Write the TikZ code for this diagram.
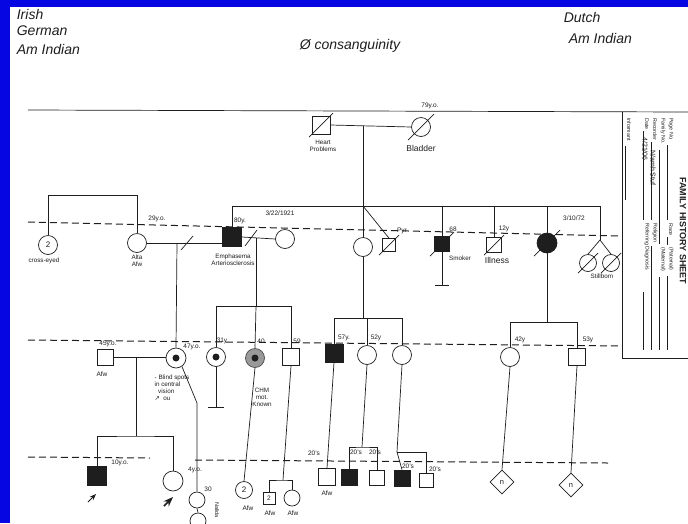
\documentclass[tikz,border=0pt]{standalone}
\usepackage{fontspec}
\setmainfont{Liberation Sans}
\newfontfamily\symfont{DejaVu Sans}
\usetikzlibrary{arrows.meta,shapes.geometric}
\definecolor{SlideBlue}{RGB}{6,6,226}
\definecolor{Ink}{RGB}{30,30,30}

\begin{document}
\begin{tikzpicture}[x=1pt,y=-1pt,>=Stealth,color=Ink,line width=0.7pt,every node/.style={font=\fontsize{6.5}{7}\selectfont,inner sep=0.5pt}]
\tikzset{male/.style={draw=Ink,minimum size=17pt,inner sep=0pt},female/.style={circle,draw=Ink,minimum size=19pt,inner sep=0pt},aff/.style={fill=Ink},carrier/.style={path picture={\fill[Ink] (path picture bounding box.center) circle (3.5pt);}},sexunk/.style={diamond,draw=Ink,aspect=1,minimum size=24pt,inner sep=0pt},hand/.style={font=\itshape\fontsize{14}{15}\selectfont,anchor=west},lbl/.style={align=center,font=\fontsize{6.3}{7}\selectfont},big/.style={font=\fontsize{8.5}{9}\selectfont},form/.style={rotate=-90,anchor=west,font=\fontsize{5.3}{6}\selectfont,inner sep=0pt},gen/.style={dash pattern=on 7pt off 4pt,line width=1pt}}
\useasboundingbox (0,0) rectangle (688,523);
\clip (0,0) rectangle (688,523);
\fill[SlideBlue] (0,0) rectangle (688,523);
\fill[white] (10,7) rectangle (688,523);
\node[hand] (irish) at (16,14) {Irish};
\node[hand] (german) at (16,31) {German};
\node[hand] (amind1) at (16,49) {Am Indian};
\node[hand,anchor=center] (consang) at (350,46) {Ø consanguinity};
\node[hand] (dutch) at (563,17) {Dutch};
\node[hand] (amind2) at (568,38) {Am Indian};
\draw (28,110) -- (688,112);
\draw[gen] (28,222) -- (620,236);
\draw[gen] (28,340) -- (622,346);
\draw[gen] (28,457) -- (150,458);
\draw[gen] (195,460) -- (608,463);
\draw (622,112) -- (622,358) -- (688,358);
\node[form] (pgno) at (671,118) {Page No.};
\node[form] (famno) at (663,118) {Family No.};
\node[form] (recby) at (655,118) {Recorder};
\node[form] (dt) at (647,118) {Date};
\node[form] (inf) at (629,118) {Informant};
\node[form,font=\fontsize{7}{8}\selectfont] (recnm) at (653,150) {N/amh Stuf};
\node[form,font=\fontsize{7}{8}\selectfont] (recdate) at (645,137) {4/21/06};
\node[form] (race) at (671,223) {Race};
\node[form] (pat) at (671,247) {(Paternal)};
\node[form] (mat) at (663,247) {(Maternal)};
\node[form] (relig) at (655,223) {Religion};
\node[form] (refdx) at (647,223) {Referring Diagnosis};
\node[form,font=\bfseries\fontsize{9}{10}\selectfont] (title) at (683,177) {FAMILY HISTORY SHEET};
\draw[line width=0.5pt] (667,145) -- (667,220) (667,237) -- (667,245) (667,276) -- (667,350);
\draw[line width=0.5pt] (659,150) -- (659,244) (659,277) -- (659,350);
\draw[line width=0.5pt] (651,142) -- (651,220) (651,246) -- (651,350);
\draw[line width=0.5pt] (643,131) -- (643,220) (643,292) -- (643,350);
\draw[line width=0.5pt] (625,146) -- (625,200);
\node[male,minimum size=18pt] (gpa) at (321,125) {};
\node[female] (gma) at (421,127) {};
\node[lbl] (gpadx) at (323,146) {Heart\\Problems};
\node[big] (gmadx) at (421,148) {Bladder};
\node (gmaage) at (430,106) {79y.o.};
\draw (gpa.east) -- (gma.west);
\coordinate (gIdesc) at (363,126);
\coordinate (sibR) at (600,206);
\draw (gIdesc) -- (gIdesc |- sibR);
\node[female,font=\fontsize{8}{9}\selectfont] (crosseye) at (48,245) {2};
\node[lbl] (crosslbl) at (44,261) {cross-eyed};
\node[female] (alta) at (137,243) {};
\node (altaage) at (157,219) {29y.o.};
\node[lbl] (altalbl) at (137,261) {Alta\\Afw};
\draw (crosseye.north) -- ++(0,-40) -| (alta.north);
\node[male,aff,minimum size=19pt] (emph) at (232,237) {};
\node (emphage) at (240,221) {80y.};
\node (emphdob) at (280,213) {3/22/1921};
\node[lbl] (emphdx) at (233,260) {Emphasema\\Arteriosclerosis};
\draw (alta.east) -- (alta.east -| emph.west);
\coordinate (div1) at (187,243);
\draw (div1) ++(-6,7) -- ++(12,-14);
\node[female] (wife2) at (285,239) {};
\draw (emph.east) -- (wife2.west);
\coordinate (div2) at (251,238);
\draw (div2) ++(-6,8) -- ++(12,-16);
\coordinate (mar2) at (256,238);
\draw (emph.north) |- (sibR);
\node[female] (aunt) at (363,247) {};
\draw (gIdesc |- sibR) -- (aunt.north);
\node[male,minimum size=13pt] (pyr) at (389,245) {};
\node (pyrlbl) at (402,231) {Pyr};
\draw (gIdesc |- sibR) -- (pyr.north);
\node[male,aff,minimum size=15pt] (smoker) at (442,244) {};
\node (smkage) at (453,229) {68};
\node[lbl] (smklbl) at (460,258) {Smoker};
\draw (smoker.north |- sibR) -- (smoker.north);
\coordinate (smkend) at (442,285);
\draw (smoker.south) -- (smkend);
\draw ([xshift=-7pt]smkend) -- ([xshift=7pt]smkend);
\node[male,minimum size=15pt] (illness) at (494,245) {};
\node (illage) at (504,229) {12y};
\node[big] (illlbl) at (497,260) {Illness};
\draw (illness.north |- sibR) -- (illness.north);
\node[female,aff,minimum size=20pt] (auntB) at (547,243) {};
\node (auntBdod) at (574,218) {3/10/72};
\draw (auntB.north |- sibR) -- (auntB.north);
\coordinate (twin) at (600,240);
\draw (sibR) -- (twin);
\node[female,minimum size=17pt] (still1) at (588,263) {};
\node[female,minimum size=17pt] (still2) at (611,263) {};
\draw (still1.north) -- (twin) -- (still2.north);
\node[lbl] (stilllbl) at (602,276) {Stillborn};
\foreach \n/\r in {gpa/12,gma/13,pyr/10,smoker/12,illness/10,auntB/13,still1/10,still2/10}
  \draw ([shift={(-\r,\r)}]\n.center) -- ([shift={(\r,-\r)}]\n.center);
\node[male,minimum size=16pt] (afwdad) at (105,357) {};
\node (afwage) at (108,344) {45y.o.};
\node (afwlbl) at (102,374) {Afw};
\node[female,carrier,minimum size=20pt] (blind) at (176,358) {};
\node (blindage) at (192,347) {47y.o.};
\node[lbl,align=left] (blindlbl) at (172,388) {- Blind spots\\in central\\\ \ vision\\{\symfont ↗} \ ou};
\coordinate (altadesc) at (177,243);
\draw (altadesc) -- (blind.north);
\draw (afwdad.east) -- (afwdad.east -| blind.west);
\coordinate (IIIdesc) at (136,357);
\coordinate (sibIVa) at (136,436);
\draw (IIIdesc) -- (sibIVa);
\node[female,carrier] (v31) at (216,357) {};
\node (v31age) at (222,341) {31y};
\coordinate (v31end) at (216,407);
\draw (v31.south) -- (v31end);
\draw ([xshift=-8pt]v31end) -- ([xshift=8pt]v31end);
\node[female,carrier,fill=black!40,draw=black!70] (chm) at (255,358) {};
\node (chmage) at (261,341) {40};
\node[lbl] (chmlbl) at (262,397) {CHM\\mot.\\Known};
\node[male,minimum size=17pt] (s59) at (291,357) {};
\node (s59age) at (297,341) {59};
\coordinate (sibIIIa) at (256,306);
\draw (mar2) -- (sibIIIa);
\draw (v31.north) |- (s59.north |- sibIIIa) -- (s59.north);
\draw (sibIIIa) -- (chm.north);
\node[male,aff,minimum size=18pt] (cousin57) at (334,353) {};
\node (c57age) at (344,338) {57y.};
\node[female] (cousin52) at (367,355) {};
\node (c52age) at (376,338) {52y};
\node[female] (cousin3) at (402,355) {};
\coordinate (sibIIIb) at (363,318);
\draw (aunt.south) -- (sibIIIb);
\draw (cousin57.north) |- (cousin3.north |- sibIIIb) -- (cousin3.north);
\draw (cousin52.north |- sibIIIb) -- (cousin52.north);
\node[female] (cousin42) at (510,357) {};
\node (c42age) at (520,340) {42y};
\node[male,minimum size=17pt] (cousin53) at (577,357) {};
\node (c53age) at (588,340) {53y};
\coordinate (sibIIIc) at (547,322);
\draw (auntB.south) -- (sibIIIc);
\draw (cousin42.north) |- (cousin53.north |- sibIIIc) -- (cousin53.north);
\node[male,aff,minimum size=19pt] (proband1) at (97,476) {};
\node (p1age) at (120,463) {10y.o.};
\node[female,minimum size=20pt] (proband2) at (173,481) {};
\node (p2age) at (195,470) {4y.o.};
\draw (proband1.north) |- (sibIVa) -| (proband2.north);
\coordinate (arr1) at (88,502);
\draw[->,line width=0.8pt] (arr1) -- ++(8,-8);
\coordinate (arr2) at (164,506);
\draw[->,line width=1.5pt] (arr2) -- ++(9,-9);
\coordinate (bend) at (197,403);
\node[female,minimum size=16pt] (girl30) at (197,500) {};
\node (g30age) at (208,489) {30};
\node[female,minimum size=16pt] (baby) at (198,521) {};
\draw (blind.-55) -- (bend) -- (girl30.north);
\draw (girl30.south) -- (baby.north);
\node[rotate=-90,font=\fontsize{5.5}{6}\selectfont] (babyname) at (217,510) {Nalida};
\node[female,minimum size=17pt,font=\fontsize{8}{9}\selectfont] (chmkid) at (244,490) {2};
\node (chmkidlbl) at (248,508) {Afw};
\draw (chm.south) -- (chmkid.north);
\coordinate (sibIVb) at (283,480);
\draw (s59.south) -- (sibIVb);
\node[male,minimum size=12pt,font=\fontsize{6.5}{7}\selectfont] (sq2) at (269,498) {2};
\node[female,minimum size=16pt] (gd59) at (292,498) {};
\draw (sq2.north) |- (sibIVb) -| (gd59.north);
\node (sq2lbl) at (270,513) {Afw};
\node (gd59lbl) at (293,513) {Afw};
\node[male,minimum size=17pt] (afw20) at (327,477) {};
\node (afw20age) at (314,453) {20's};
\node (afw20lbl) at (327,493) {Afw};
\draw (cousin57.south) -- (afw20.north);
\coordinate (sibIVc) at (362,447);
\draw (cousin52.south) -- (sibIVc);
\node[male,aff,minimum size=16pt] (k20a) at (349,477) {};
\node[male,minimum size=15pt] (k20b) at (377,478) {};
\draw (k20a.north) |- (sibIVc) -| (k20b.north);
\node (k20aage) at (356,452) {20's};
\node (k20bage) at (375,452) {20's};
\coordinate (sibIVd) at (397,452);
\draw (cousin3.south) -- (sibIVd);
\node[male,aff,minimum size=16pt] (k20c) at (402,478) {};
\node[male,minimum size=14pt] (k20d) at (426,480) {};
\draw (sibIVd) -- (sibIVd -| k20d.north) -- (k20d.north);
\draw (sibIVd) -- (k20c.north);
\node (k20cage) at (408,466) {20's};
\node (k20dage) at (435,469) {20's};
\node[sexunk,font=\fontsize{7.5}{8}\selectfont] (sibsN1) at (502,482) {n};
\node[sexunk,font=\fontsize{7.5}{8}\selectfont] (sibsN2) at (571,485) {n};
\draw (cousin42.south) -- (sibsN1.north);
\draw (cousin53.south) -- (sibsN2.north);
\end{tikzpicture}
\end{document}
